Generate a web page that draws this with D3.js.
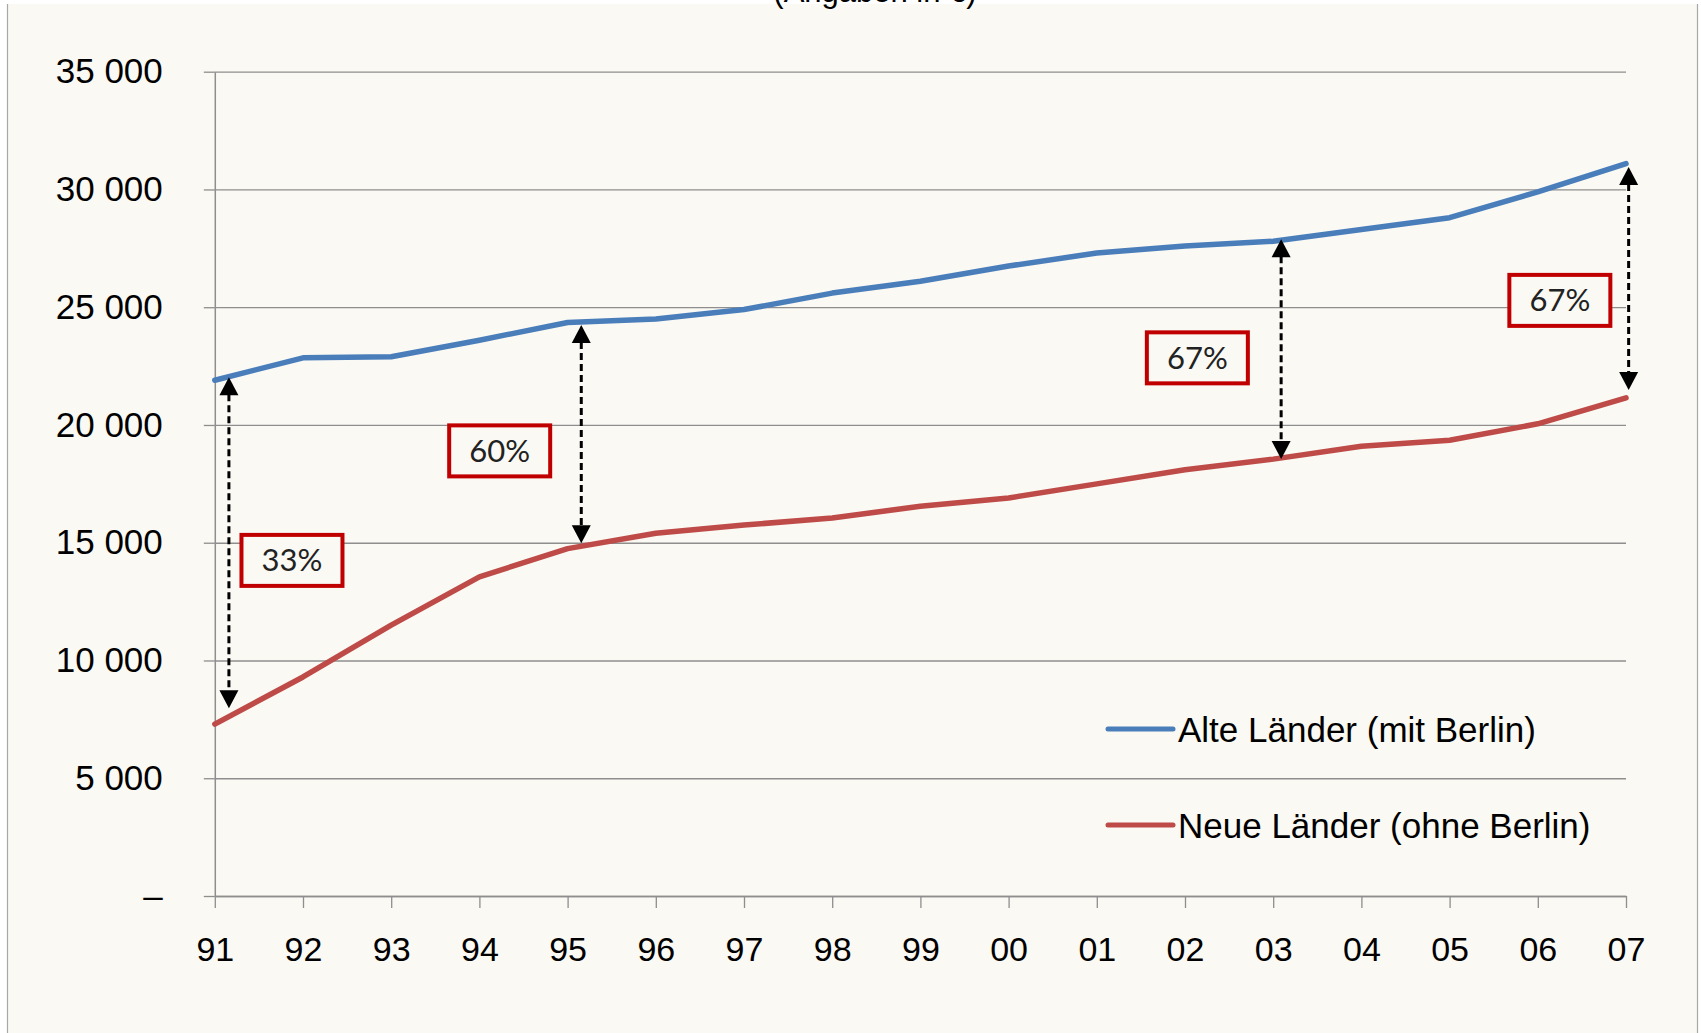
<!DOCTYPE html>
<html>
<head>
<meta charset="utf-8">
<script src="https://cdn.jsdelivr.net/npm/d3@7"></script>
<style>
  html, body { margin: 0; padding: 0; background: #fff; }
  svg { display: block; }
  text { font-family: "Liberation Sans", Arial, sans-serif; fill: #000; }
</style>
</head>
<body>
<svg id="chart" width="1701" height="1033"></svg>
<script>
// years on the x axis (two-digit labels as in the original)
const years = ["91","92","93","94","95","96","97","98","99","00","01","02","03","04","05","06","07"];

// Alte Länder (mit Berlin), € per inhabitant
const alteLaender = [21900, 22850, 22900, 23600, 24350, 24500, 24900, 25600, 26100,
                     26750, 27300, 27600, 27800, 28300, 28800, 29900, 31100];
// Neue Länder (ohne Berlin)
const neueLaender = [7300, 9300, 11500, 13550, 14750, 15400, 15750, 16050, 16550,
                     16900, 17500, 18100, 18550, 19100, 19350, 20050, 21150];

const yTicks = [0, 5000, 10000, 15000, 20000, 25000, 30000, 35000];
const seriesNames = ["Alte Länder (mit Berlin)", "Neue Länder (ohne Berlin)"];

// gap annotations: label, where the arrow sits (year index), arrow ends (values)
const gapLabels = ["33%", "60%", "67%", "67%"];
const arrowAt = [0.16, 4.155, 12.09, 16.03];
const arrowTop = [22030, 24250, 27890, 30950];
const arrowBottom = [7970, 14980, 18550, 21490];
const labelAtX = [0.875, 3.23, 11.14, 15.25];
const labelAtY = [14250, 18900, 22850, 25290];

(function() {
    var svg = d3.select("#chart"),
        width = +svg.attr("width"),
        height = +svg.attr("height");

    var bg = "#faf9f3",
        blue = "#4a7ebb",
        red = "#be4b48",
        gridColor = "#8e8e8e";

    var plotLeft = 214.8, plotRight = 1626, plotTop = 71.7, plotBottom = 896;

    // background, white strip on top, thin frame lines on the sides
    svg.append("rect").attr("width", width).attr("height", height).attr("fill", "#fff");
    svg.append("rect").attr("x", 7).attr("y", 4).attr("width", 1690).attr("height", height - 4).attr("fill", bg);
    svg.append("line").attr("x1", 7.5).attr("x2", 7.5).attr("y1", 4).attr("y2", height)
        .attr("stroke", "#a8a8a8").attr("stroke-width", 1.2);
    svg.append("line").attr("x1", 1697.5).attr("x2", 1697.5).attr("y1", 4).attr("y2", height)
        .attr("stroke", "#a8a8a8").attr("stroke-width", 1.2);

    // title, mostly cut off at the top edge (as in the original)
    svg.append("text").attr("x", 875).attr("y", 2).attr("text-anchor", "middle")
        .style("font-size", "31px").text("(Angaben in €)");

    var x = d3.scalePoint().domain(years).range([plotLeft, plotRight]);
    var xi = d3.scaleLinear().domain([0, years.length - 1]).range([plotLeft, plotRight]);
    var y = d3.scaleLinear().domain([0, 35000]).range([plotBottom, plotTop]);

    var de = d3.formatLocale({ decimal: ",", thousands: " ", grouping: [3], currency: ["", " €"] });
    var fmt = de.format(",d");

    // gridlines
    svg.append("g")
        .attr("transform", "translate(" + plotLeft + ",0)")
        .call(d3.axisLeft(y).tickValues(yTicks).tickSize(-(plotRight - plotLeft)).tickFormat(""))
        .call(g => g.select(".domain").remove())
        .call(g => g.selectAll("line").attr("stroke", gridColor).attr("stroke-width", 1.3));

    // y axis with labels
    svg.append("g")
        .attr("transform", "translate(" + plotLeft + ",0)")
        .call(d3.axisLeft(y).tickValues(yTicks).tickSize(11).tickSizeOuter(0).tickPadding(41)
            .tickFormat(d => d === 0 ? "–" : fmt(d)))
        .call(g => g.select(".domain").attr("stroke", gridColor).attr("stroke-width", 1.5))
        .call(g => g.selectAll("line").attr("stroke", gridColor).attr("stroke-width", 1.3))
        .call(g => g.selectAll("text").attr("fill", "#000")
            .style("font-family", "'Liberation Sans', Arial, sans-serif").style("font-size", "35px"));

    // x axis
    svg.append("g")
        .attr("transform", "translate(0," + plotBottom + ")")
        .call(d3.axisBottom(x).tickSize(12).tickSizeOuter(0).tickPadding(29))
        .call(g => g.select(".domain").attr("stroke", gridColor).attr("stroke-width", 1.5))
        .call(g => g.selectAll("line").attr("stroke", gridColor).attr("stroke-width", 1.3))
        .call(g => g.selectAll("text").attr("fill", "#000")
            .style("font-family", "'Liberation Sans', Arial, sans-serif").style("font-size", "34px"));

    // the two lines
    var line = d3.line().x((d, i) => x(years[i])).y(d => y(d));
    [[alteLaender, blue], [neueLaender, red]].forEach(function(s) {
        svg.append("path")
            .datum(s[0])
            .attr("d", line)
            .attr("fill", "none")
            .attr("stroke", s[1])
            .attr("stroke-width", 5.5)
            .attr("stroke-linejoin", "round")
            .attr("stroke-linecap", "round");
    });

    // double arrows between the lines
    var headLen = 18, headHalf = 9.5;
    var arrows = svg.append("g");
    arrowAt.forEach(function(a, i) {
        var ax = xi(a), y1 = y(arrowTop[i]), y2 = y(arrowBottom[i]);
        arrows.append("line")
            .attr("x1", ax).attr("x2", ax)
            .attr("y1", y1 + headLen - 1).attr("y2", y2 - headLen + 1)
            .attr("stroke", "#000").attr("stroke-width", 3)
            .attr("stroke-dasharray", "7,4");
        arrows.append("path")
            .attr("d", "M" + ax + "," + y1 + "L" + (ax - headHalf) + "," + (y1 + headLen) +
                       "L" + (ax + headHalf) + "," + (y1 + headLen) + "Z")
            .attr("fill", "#000");
        arrows.append("path")
            .attr("d", "M" + ax + "," + y2 + "L" + (ax - headHalf) + "," + (y2 - headLen) +
                       "L" + (ax + headHalf) + "," + (y2 - headLen) + "Z")
            .attr("fill", "#000");
    });

    // red boxed percentages
    var boxW = 101, boxH = 51;
    gapLabels.forEach(function(lbl, i) {
        var cx = xi(labelAtX[i]), cy = y(labelAtY[i]);
        svg.append("rect")
            .attr("x", cx - boxW / 2).attr("y", cy - boxH / 2)
            .attr("width", boxW).attr("height", boxH)
            .attr("fill", bg).attr("stroke", "#c00000").attr("stroke-width", 4);
        svg.append("text")
            .attr("x", cx).attr("y", cy + 11)
            .attr("text-anchor", "middle")
            .style("font-family", "Lato, 'Open Sans', sans-serif")
            .style("font-size", "31px")
            .style("fill", "#222")
            .text(lbl);
    });

    // legend
    var legend = svg.append("g");
    [[seriesNames[0], blue, 729], [seriesNames[1], red, 825]].forEach(function(l) {
        legend.append("line")
            .attr("x1", 1108).attr("x2", 1173)
            .attr("y1", l[2]).attr("y2", l[2])
            .attr("stroke", l[1]).attr("stroke-width", 5)
            .attr("stroke-linecap", "round");
        legend.append("text")
            .attr("x", 1178).attr("y", l[2] + 12.5)
            .style("font-size", "35px")
            .text(l[0]);
    });
})();
</script>
</body>
</html>
